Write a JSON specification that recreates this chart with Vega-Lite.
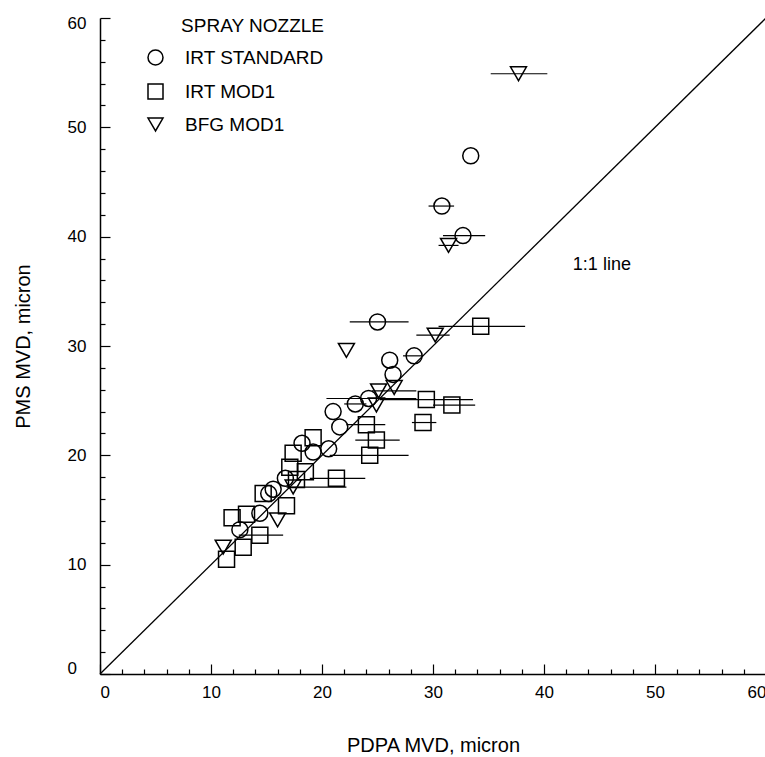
{
  "$schema": "https://vega.github.io/schema/vega-lite/v6.json",
  "autosize": {"type": "none"},
  "width": 666,
  "height": 656,
  "padding": {"left": 100, "top": 18, "right": 0, "bottom": 83},
  "background": "white",
  "config": {
    "view": {"stroke": null},
    "font": "Liberation Sans",
    "axis": {"domainColor": "black", "tickColor": "black", "labelColor": "black", "titleColor": "black", "grid": false, "labelFontSize": 17, "titleFontSize": 20, "titleFontWeight": "normal", "domainWidth": 1.5, "tickWidth": 1.2, "labelOverlap": false},
    "legend": {"labelFontSize": 19, "titleFontSize": 19, "titleFontWeight": "normal", "titleColor": "black", "labelColor": "black"}
  },
  "datasets": {
    "pts": [
      {"s": "IRT STANDARD", "x": 33.4, "y": 47.4},
      {"s": "IRT STANDARD", "x": 30.8, "y": 42.8, "lo": 29.6, "hi": 31.9},
      {"s": "IRT STANDARD", "x": 32.7, "y": 40.1, "lo": 30.9, "hi": 34.7},
      {"s": "IRT STANDARD", "x": 25.0, "y": 32.2, "lo": 22.5, "hi": 27.8},
      {"s": "IRT STANDARD", "x": 28.3, "y": 29.1, "lo": 27.3, "hi": 29.1},
      {"s": "IRT STANDARD", "x": 26.1, "y": 28.7},
      {"s": "IRT STANDARD", "x": 26.4, "y": 27.4},
      {"s": "IRT STANDARD", "x": 24.2, "y": 25.2, "lo": 20.4, "hi": 28.5},
      {"s": "IRT STANDARD", "x": 23.0, "y": 24.7, "lo": 22.0, "hi": 24.0},
      {"s": "IRT STANDARD", "x": 21.0, "y": 24.0},
      {"s": "IRT STANDARD", "x": 21.6, "y": 22.6},
      {"s": "IRT STANDARD", "x": 20.6, "y": 20.6},
      {"s": "IRT STANDARD", "x": 19.2, "y": 20.3},
      {"s": "IRT STANDARD", "x": 18.2, "y": 21.1},
      {"s": "IRT STANDARD", "x": 16.7, "y": 17.9},
      {"s": "IRT STANDARD", "x": 15.6, "y": 16.9},
      {"s": "IRT STANDARD", "x": 15.2, "y": 16.5},
      {"s": "IRT STANDARD", "x": 14.4, "y": 14.7},
      {"s": "IRT STANDARD", "x": 12.6, "y": 13.2},
      {"s": "IRT MOD1", "x": 34.3, "y": 31.8, "lo": 30.5, "hi": 38.3},
      {"s": "IRT MOD1", "x": 29.4, "y": 25.1, "lo": 25.2, "hi": 33.6},
      {"s": "IRT MOD1", "x": 31.7, "y": 24.6, "lo": 30.0, "hi": 33.8},
      {"s": "IRT MOD1", "x": 29.1, "y": 23.0, "lo": 28.1, "hi": 30.3},
      {"s": "IRT MOD1", "x": 24.0, "y": 22.8, "lo": 22.2, "hi": 25.7},
      {"s": "IRT MOD1", "x": 24.9, "y": 21.4, "lo": 23.0, "hi": 27.0},
      {"s": "IRT MOD1", "x": 19.2, "y": 21.6},
      {"s": "IRT MOD1", "x": 24.3, "y": 20.0, "lo": 20.7, "hi": 27.8},
      {"s": "IRT MOD1", "x": 17.4, "y": 20.2},
      {"s": "IRT MOD1", "x": 21.3, "y": 17.9, "lo": 18.9, "hi": 23.9},
      {"s": "IRT MOD1", "x": 17.1, "y": 18.9},
      {"s": "IRT MOD1", "x": 18.5, "y": 18.5},
      {"s": "IRT MOD1", "x": 17.7, "y": 17.8},
      {"s": "IRT MOD1", "x": 16.8, "y": 15.4},
      {"s": "IRT MOD1", "x": 14.7, "y": 16.5},
      {"s": "IRT MOD1", "x": 11.9, "y": 14.3},
      {"s": "IRT MOD1", "x": 13.2, "y": 14.6},
      {"s": "IRT MOD1", "x": 14.4, "y": 12.7, "lo": 12.5, "hi": 16.5},
      {"s": "IRT MOD1", "x": 12.9, "y": 11.6},
      {"s": "IRT MOD1", "x": 11.4, "y": 10.5},
      {"s": "BFG MOD1", "x": 37.7, "y": 54.9, "lo": 35.2, "hi": 40.3},
      {"s": "BFG MOD1", "x": 31.4, "y": 39.2, "lo": 30.5, "hi": 32.3},
      {"s": "BFG MOD1", "x": 30.2, "y": 31.0, "lo": 28.5, "hi": 31.5},
      {"s": "BFG MOD1", "x": 22.2, "y": 29.6},
      {"s": "BFG MOD1", "x": 25.1, "y": 25.9, "lo": 24.5, "hi": 28.5},
      {"s": "BFG MOD1", "x": 26.5, "y": 26.2},
      {"s": "BFG MOD1", "x": 24.9, "y": 24.6},
      {"s": "BFG MOD1", "x": 17.4, "y": 17.1, "lo": 16.8, "hi": 22.2},
      {"s": "BFG MOD1", "x": 16.0, "y": 14.1},
      {"s": "BFG MOD1", "x": 11.1, "y": 11.6}
    ],
    "oneone": [{"x": 0, "y": 0}, {"x": 60, "y": 60}],
    "note": [{"x": 42.6, "y": 37.4, "t": "1:1 line"}]
  },
  "layer": [
    {
      "data": {"name": "oneone"},
      "mark": {"type": "line", "color": "black", "strokeWidth": 1.3},
      "encoding": {
        "x": {"field": "x", "type": "quantitative", "scale": {"domain": [0, 60], "nice": false},
          "axis": {
            "title": "PDPA MVD, micron",
            "values": [0,2,4,6,8,10,12,14,16,18,20,22,24,26,28,30,32,34,36,38,40,42,44,46,48,50,52,54,56,58,60],
            "tickCount": 100,
            "format": "d",
            "labelExpr": "datum.value % 10 === 0 ? datum.label : ''",
            "labelOverlap": false,
            "tickSize": {"condition": {"test": "datum.value % 10 === 0", "value": -10}, "value": -5},
            "labelPadding": 20,
            "labelFlush": true,
            "titleY": 71,
            "titleBaseline": "middle"
          }},
        "y": {"field": "y", "type": "quantitative", "scale": {"domain": [0, 60], "nice": false},
          "axis": {
            "title": "PMS MVD, micron",
            "values": [0,2,4,6,8,10,12,14,16,18,20,22,24,26,28,30,32,34,36,38,40,42,44,46,48,50,52,54,56,58,60],
            "tickCount": 100,
            "format": "d",
            "labelExpr": "datum.value % 10 === 0 ? datum.label : ''",
            "labelOverlap": false,
            "tickSize": {"condition": {"test": "datum.value % 10 === 0", "value": -10}, "value": -5},
            "labelPadding": 43,
            "labelAlign": "left",
            "labelFlush": true,
            "labelFlushOffset": 3,
            "titleX": -77,
            "titleY": 328,
            "titleBaseline": "middle"
          }}
      }
    },
    {
      "data": {"name": "pts"},
      "transform": [{"filter": "isValid(datum.lo)"}],
      "mark": {"type": "rule", "color": "black", "strokeWidth": 1.2},
      "encoding": {
        "x": {"field": "lo", "type": "quantitative"},
        "x2": {"field": "hi"},
        "y": {"field": "y", "type": "quantitative"}
      }
    },
    {
      "data": {"name": "pts"},
      "mark": {"type": "point", "filled": false, "color": "black", "strokeWidth": 1.5, "size": 256, "opacity": 1},
      "encoding": {
        "x": {"field": "x", "type": "quantitative"},
        "y": {"field": "y", "type": "quantitative"},
        "shape": {"field": "s", "type": "nominal",
          "scale": {"domain": ["IRT STANDARD", "IRT MOD1", "BFG MOD1"], "range": ["circle", "square", "triangle-down"]},
          "legend": {"title": "SPRAY NOZZLE", "orient": "none", "legendX": 46, "legendY": -1, "titleAnchor": "end", "symbolSize": 225, "symbolStrokeColor": "black", "symbolStrokeWidth": 1.5, "symbolFillColor": "transparent", "rowPadding": 13, "labelOffset": 20, "titlePadding": 12}}
      }
    },
    {
      "data": {"name": "note"},
      "mark": {"type": "text", "align": "left", "baseline": "middle", "fontSize": 18, "color": "black"},
      "encoding": {
        "x": {"field": "x", "type": "quantitative"},
        "y": {"field": "y", "type": "quantitative"},
        "text": {"field": "t"}
      }
    }
  ]
}
